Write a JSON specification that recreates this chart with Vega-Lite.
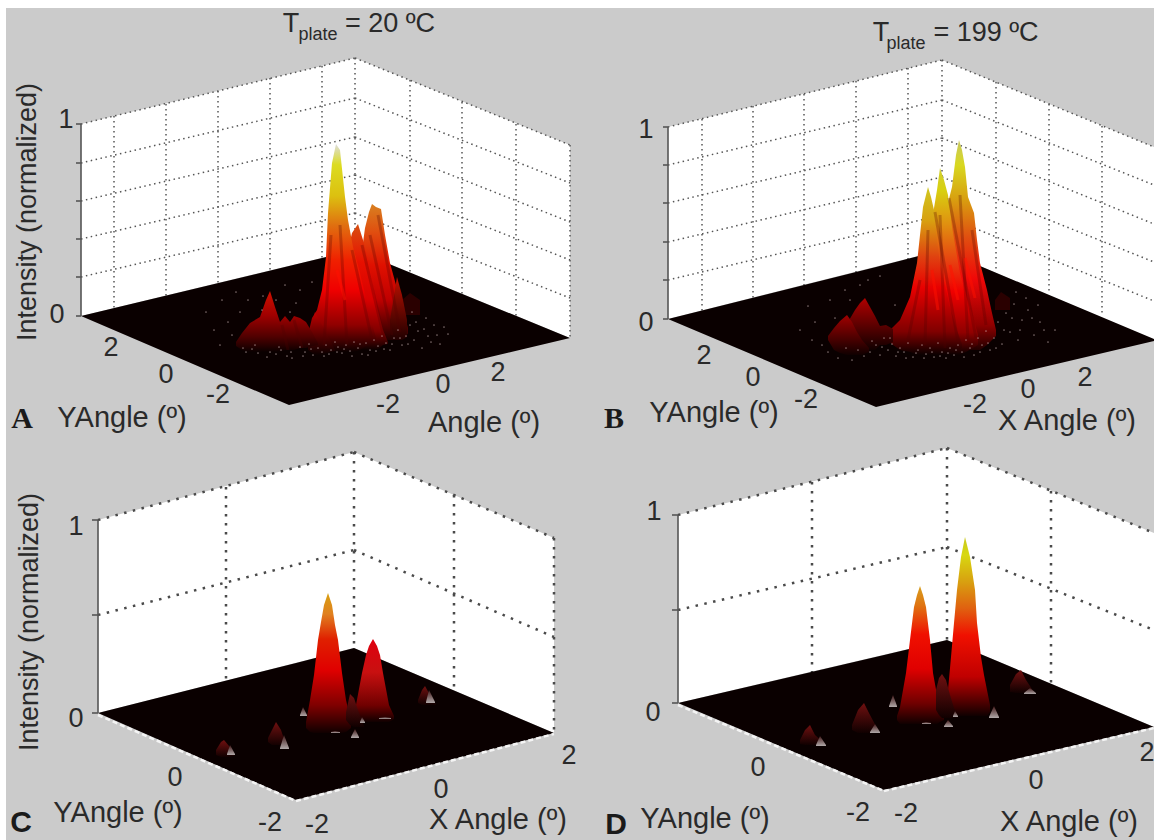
{"$schema":"https://vega.github.io/schema/vega-lite/v6.json","width":1154,"height":840,"padding":0,"autosize":{"type":"none"},"background":"#ffffff","config":{"view":{"stroke":null}},
"datasets":{
"bg":[{"x":6,"y":8,"y2":840},{"x":1154,"y":8,"y2":840}],
"walls":[{"p":"A","x":81,"y":124,"y2":316},{"p":"A","x":355,"y":58,"y2":250},{"p":"A","x":570,"y":145,"y2":338},{"p":"B","x":668,"y":127,"y2":319},{"p":"B","x":942,"y":60,"y2":250},{"p":"B","x":1154,"y":147,"y2":340},{"p":"C","x":98,"y":520,"y2":713},{"p":"C","x":354,"y":452,"y2":648},{"p":"C","x":554,"y":538,"y2":733},{"p":"D","x":678,"y":515,"y2":703},{"p":"D","x":947,"y":448,"y2":640},{"p":"D","x":1154,"y":533,"y2":727}],
"floors":[{"p":"A","x":81,"y":316,"y2":316},{"p":"A","x":289,"y":266,"y2":405},{"p":"A","x":355,"y":250,"y2":389},{"p":"A","x":570,"y":338,"y2":338},{"p":"B","x":668,"y":319,"y2":319},{"p":"B","x":876,"y":267,"y2":407},{"p":"B","x":942,"y":250,"y2":391},{"p":"B","x":1154,"y":339,"y2":341},{"p":"C","x":98,"y":713,"y2":713},{"p":"C","x":296,"y":663,"y2":800},{"p":"C","x":354,"y":648,"y2":785},{"p":"C","x":554,"y":733,"y2":733},{"p":"D","x":678,"y":703,"y2":703},{"p":"D","x":884,"y":655,"y2":790},{"p":"D","x":947,"y":640,"y2":775},{"p":"D","x":1154,"y":727,"y2":727}],
"segs":[
{"g":"fine","x":81,"y":124,"x2":355,"y2":58},{"g":"fine","x":81,"y":163,"x2":355,"y2":98},{"g":"fine","x":81,"y":201,"x2":355,"y2":137},{"g":"fine","x":81,"y":239,"x2":355,"y2":175},{"g":"fine","x":81,"y":277,"x2":355,"y2":213},
{"g":"fine","x":355,"y":58,"x2":570,"y2":145},{"g":"fine","x":355,"y":98,"x2":570,"y2":183},{"g":"fine","x":355,"y":137,"x2":570,"y2":222},{"g":"fine","x":355,"y":175,"x2":570,"y2":260},{"g":"fine","x":355,"y":213,"x2":570,"y2":298},
{"g":"fine","x":114,"y":116,"x2":114,"y2":308},{"g":"fine","x":166,"y":104,"x2":166,"y2":296},{"g":"fine","x":218,"y":91,"x2":218,"y2":283},{"g":"fine","x":270,"y":78,"x2":270,"y2":270},{"g":"fine","x":322,"y":66,"x2":322,"y2":258},{"g":"fine","x":355,"y":58,"x2":355,"y2":250},{"g":"fine","x":410,"y":80,"x2":410,"y2":272},{"g":"fine","x":462,"y":102,"x2":462,"y2":294},{"g":"fine","x":516,"y":124,"x2":516,"y2":316},{"g":"fine","x":570,"y":145,"x2":570,"y2":338},
{"g":"fine","x":668,"y":127,"x2":942,"y2":60},{"g":"fine","x":668,"y":165,"x2":942,"y2":100},{"g":"fine","x":668,"y":203,"x2":942,"y2":138},{"g":"fine","x":668,"y":242,"x2":942,"y2":177},{"g":"fine","x":668,"y":280,"x2":942,"y2":215},
{"g":"fine","x":942,"y":60,"x2":1154,"y2":147},{"g":"fine","x":942,"y":100,"x2":1154,"y2":185},{"g":"fine","x":942,"y":138,"x2":1154,"y2":224},{"g":"fine","x":942,"y":177,"x2":1154,"y2":262},{"g":"fine","x":942,"y":215,"x2":1154,"y2":301},
{"g":"fine","x":702,"y":119,"x2":702,"y2":311},{"g":"fine","x":753,"y":106,"x2":753,"y2":298},{"g":"fine","x":804,"y":94,"x2":804,"y2":286},{"g":"fine","x":856,"y":81,"x2":856,"y2":273},{"g":"fine","x":908,"y":68,"x2":908,"y2":260},{"g":"fine","x":942,"y":60,"x2":942,"y2":250},{"g":"fine","x":996,"y":82,"x2":996,"y2":272},{"g":"fine","x":1049,"y":104,"x2":1049,"y2":294},{"g":"fine","x":1102,"y":126,"x2":1102,"y2":316},
{"g":"coarse","x":98,"y":520,"x2":354,"y2":452},{"g":"coarse","x":354,"y":452,"x2":554,"y2":538},{"g":"coarse","x":98,"y":615,"x2":354,"y2":550},{"g":"coarse","x":354,"y":550,"x2":554,"y2":637},{"g":"coarse","x":226,"y":487,"x2":226,"y2":679},{"g":"coarse","x":354,"y":452,"x2":354,"y2":648},{"g":"coarse","x":454,"y":495,"x2":454,"y2":690},{"g":"coarse","x":554,"y":538,"x2":554,"y2":733},
{"g":"coarse","x":678,"y":515,"x2":947,"y2":448},{"g":"coarse","x":947,"y":448,"x2":1154,"y2":533},{"g":"coarse","x":678,"y":610,"x2":947,"y2":547},{"g":"coarse","x":947,"y":547,"x2":1154,"y2":630},{"g":"coarse","x":812,"y":482,"x2":812,"y2":672},{"g":"coarse","x":947,"y":448,"x2":947,"y2":640},{"g":"coarse","x":1051,"y":491,"x2":1051,"y2":684},
{"g":"axis","x":81,"y":124,"x2":81,"y2":316},{"g":"axis","x":668,"y":127,"x2":668,"y2":319},{"g":"axis","x":98,"y":520,"x2":98,"y2":713},{"g":"axis","x":678,"y":515,"x2":678,"y2":703},
{"g":"axis","x":76,"y":124,"x2":81,"y2":124},{"g":"axis","x":76,"y":163,"x2":81,"y2":163},{"g":"axis","x":76,"y":201,"x2":81,"y2":201},{"g":"axis","x":76,"y":239,"x2":81,"y2":239},{"g":"axis","x":76,"y":277,"x2":81,"y2":277},{"g":"axis","x":76,"y":316,"x2":81,"y2":316},
{"g":"axis","x":663,"y":127,"x2":668,"y2":127},{"g":"axis","x":663,"y":165,"x2":668,"y2":165},{"g":"axis","x":663,"y":203,"x2":668,"y2":203},{"g":"axis","x":663,"y":242,"x2":668,"y2":242},{"g":"axis","x":663,"y":280,"x2":668,"y2":280},{"g":"axis","x":663,"y":319,"x2":668,"y2":319},
{"g":"axis","x":92,"y":520,"x2":98,"y2":520},{"g":"axis","x":92,"y":615,"x2":98,"y2":615},{"g":"axis","x":92,"y":713,"x2":98,"y2":713},{"g":"axis","x":672,"y":515,"x2":678,"y2":515},{"g":"axis","x":672,"y":610,"x2":678,"y2":610},{"g":"axis","x":672,"y":703,"x2":678,"y2":703},
{"g":"edge","x":98,"y":715,"x2":296,"y2":801},{"g":"edge","x":296,"y":801,"x2":554,"y2":734},{"g":"edge","x":678,"y":705,"x2":884,"y2":791},{"g":"edge","x":884,"y":791,"x2":1154,"y2":728},
{"g":"fold","x":340,"y":225,"x2":347,"y2":345},{"g":"fold","x":331,"y":235,"x2":324,"y2":345},{"g":"fold","x":362,"y":245,"x2":384,"y2":338},{"g":"fold","x":352,"y":250,"x2":372,"y2":340},{"g":"fold","x":378,"y":215,"x2":400,"y2":332},{"g":"fold","x":370,"y":235,"x2":392,"y2":335},{"g":"fold","x":282,"y":325,"x2":288,"y2":350},{"g":"fold","x":294,"y":320,"x2":302,"y2":348},
{"g":"fold","x":935,"y":212,"x2":958,"y2":342},{"g":"fold","x":949,"y":198,"x2":976,"y2":338},{"g":"fold","x":920,"y":280,"x2":908,"y2":340},{"g":"fold","x":928,"y":230,"x2":925,"y2":345},{"g":"fold","x":940,"y":215,"x2":945,"y2":348},{"g":"fold","x":960,"y":195,"x2":968,"y2":340},{"g":"fold","x":972,"y":230,"x2":986,"y2":325},
{"g":"glint","x":932,"y":270,"x2":938,"y2":310},{"g":"glint","x":950,"y":265,"x2":958,"y2":300},{"g":"glint","x":965,"y":258,"x2":975,"y2":298},{"g":"glint","x":337,"y":270,"x2":345,"y2":300}
],
"peaks":[
{"p":"A3","x":362,"y":250,"y2":320},{"p":"A3","x":365,"y":228,"y2":330},{"p":"A3","x":369,"y":212,"y2":335},{"p":"A3","x":372,"y":204,"y2":340},{"p":"A3","x":376,"y":207,"y2":340},{"p":"A3","x":381,"y":209,"y2":340},{"p":"A3","x":385,"y":235,"y2":340},{"p":"A3","x":390,"y":263,"y2":340},{"p":"A3","x":396,"y":285,"y2":338},{"p":"A3","x":402,"y":305,"y2":336},{"p":"A3","x":408,"y":328,"y2":334},
{"p":"A3b","x":390,"y":320,"y2":340},{"p":"A3b","x":397,"y":277,"y2":340},{"p":"A3b","x":402,"y":295,"y2":340},{"p":"A3b","x":407,"y":320,"y2":337},
{"p":"A2","x":348,"y":250,"y2":345},{"p":"A2","x":352,"y":233,"y2":350},{"p":"A2","x":358,"y":224,"y2":350},{"p":"A2","x":363,"y":240,"y2":350},{"p":"A2","x":368,"y":260,"y2":350},{"p":"A2","x":372,"y":280,"y2":350},{"p":"A2","x":377,"y":307,"y2":350},{"p":"A2","x":383,"y":330,"y2":345},{"p":"A2","x":388,"y":342,"y2":344},
{"p":"A1","x":308,"y":335,"y2":345},{"p":"A1","x":312,"y":318,"y2":348},{"p":"A1","x":317,"y":310,"y2":350},{"p":"A1","x":322,"y":290,"y2":350},{"p":"A1","x":326,"y":257,"y2":352},{"p":"A1","x":328,"y":213,"y2":352},{"p":"A1","x":332,"y":163,"y2":352},{"p":"A1","x":336,"y":144,"y2":352},{"p":"A1","x":340,"y":150,"y2":352},{"p":"A1","x":345,"y":197,"y2":352},{"p":"A1","x":348,"y":220,"y2":352},{"p":"A1","x":353,"y":247,"y2":352},{"p":"A1","x":360,"y":273,"y2":350},{"p":"A1","x":367,"y":303,"y2":345},{"p":"A1","x":373,"y":327,"y2":340},{"p":"A1","x":376,"y":338,"y2":339},
{"p":"A4","x":308,"y":340,"y2":350},{"p":"A4","x":315,"y":312,"y2":355},{"p":"A4","x":322,"y":325,"y2":355},{"p":"A4","x":330,"y":340,"y2":352},{"p":"A4","x":335,"y":350,"y2":351},
{"p":"A5","x":236,"y":342,"y2":346},{"p":"A5","x":242,"y":333,"y2":350},{"p":"A5","x":250,"y":323,"y2":352},{"p":"A5","x":260,"y":317,"y2":352},{"p":"A5","x":266,"y":300,"y2":352},{"p":"A5","x":270,"y":291,"y2":352},{"p":"A5","x":275,"y":307,"y2":352},{"p":"A5","x":280,"y":322,"y2":352},{"p":"A5","x":285,"y":316,"y2":350},{"p":"A5","x":290,"y":322,"y2":350},{"p":"A5","x":294,"y":316,"y2":350},{"p":"A5","x":300,"y":318,"y2":348},{"p":"A5","x":306,"y":322,"y2":348},{"p":"A5","x":312,"y":332,"y2":346},{"p":"A5","x":318,"y":343,"y2":345},
{"p":"B3","x":945,"y":215,"y2":345},{"p":"B3","x":952,"y":187,"y2":348},{"p":"B3","x":956,"y":155,"y2":350},{"p":"B3","x":959,"y":140,"y2":350},{"p":"B3","x":962,"y":150,"y2":350},{"p":"B3","x":965,"y":167,"y2":350},{"p":"B3","x":968,"y":197,"y2":350},{"p":"B3","x":974,"y":213,"y2":350},{"p":"B3","x":977,"y":240,"y2":350},{"p":"B3","x":980,"y":263,"y2":350},{"p":"B3","x":987,"y":290,"y2":345},{"p":"B3","x":992,"y":313,"y2":340},{"p":"B3","x":996,"y":330,"y2":336},
{"p":"B2","x":930,"y":230,"y2":355},{"p":"B2","x":934,"y":208,"y2":355},{"p":"B2","x":937,"y":190,"y2":355},{"p":"B2","x":940,"y":168,"y2":355},{"p":"B2","x":944,"y":180,"y2":355},{"p":"B2","x":948,"y":195,"y2":355},{"p":"B2","x":952,"y":227,"y2":355},{"p":"B2","x":956,"y":250,"y2":355},{"p":"B2","x":960,"y":273,"y2":355},{"p":"B2","x":966,"y":295,"y2":352},{"p":"B2","x":973,"y":317,"y2":348},{"p":"B2","x":978,"y":335,"y2":345},
{"p":"B1","x":888,"y":332,"y2":340},{"p":"B1","x":893,"y":327,"y2":345},{"p":"B1","x":900,"y":320,"y2":350},{"p":"B1","x":910,"y":297,"y2":352},{"p":"B1","x":917,"y":263,"y2":355},{"p":"B1","x":920,"y":235,"y2":355},{"p":"B1","x":923,"y":207,"y2":355},{"p":"B1","x":928,"y":187,"y2":355},{"p":"B1","x":931,"y":197,"y2":355},{"p":"B1","x":934,"y":210,"y2":355},{"p":"B1","x":937,"y":240,"y2":355},{"p":"B1","x":940,"y":263,"y2":355},{"p":"B1","x":945,"y":285,"y2":355},{"p":"B1","x":950,"y":307,"y2":352},{"p":"B1","x":957,"y":330,"y2":350},{"p":"B1","x":962,"y":344,"y2":348},
{"p":"B5","x":848,"y":322,"y2":345},{"p":"B5","x":855,"y":310,"y2":350},{"p":"B5","x":860,"y":303,"y2":350},{"p":"B5","x":865,"y":298,"y2":350},{"p":"B5","x":870,"y":307,"y2":350},{"p":"B5","x":875,"y":316,"y2":350},{"p":"B5","x":880,"y":326,"y2":345},{"p":"B5","x":886,"y":325,"y2":345},{"p":"B5","x":893,"y":329,"y2":342},
{"p":"B4","x":828,"y":336,"y2":340},{"p":"B4","x":834,"y":328,"y2":350},{"p":"B4","x":840,"y":321,"y2":353},{"p":"B4","x":847,"y":315,"y2":355},{"p":"B4","x":852,"y":322,"y2":355},{"p":"B4","x":857,"y":332,"y2":355},{"p":"B4","x":862,"y":340,"y2":355},{"p":"B4","x":869,"y":348,"y2":352},
{"p":"C2","x":352,"y":715,"y2":718},{"p":"C2","x":356,"y":705,"y2":722},{"p":"C2","x":362,"y":673,"y2":722},{"p":"C2","x":366,"y":655,"y2":722},{"p":"C2","x":369,"y":646,"y2":722},{"p":"C2","x":373,"y":639,"y2":722},{"p":"C2","x":377,"y":646,"y2":722},{"p":"C2","x":380,"y":655,"y2":722},{"p":"C2","x":383,"y":673,"y2":722},{"p":"C2","x":389,"y":705,"y2":722},{"p":"C2","x":394,"y":716,"y2":719},
{"p":"C1","x":306,"y":722,"y2":728},{"p":"C1","x":310,"y":700,"y2":732},{"p":"C1","x":314,"y":675,"y2":733},{"p":"C1","x":318,"y":640,"y2":733},{"p":"C1","x":321,"y":622,"y2":733},{"p":"C1","x":324,"y":605,"y2":733},{"p":"C1","x":328,"y":593,"y2":733},{"p":"C1","x":332,"y":605,"y2":733},{"p":"C1","x":335,"y":625,"y2":733},{"p":"C1","x":338,"y":640,"y2":733},{"p":"C1","x":342,"y":673,"y2":733},{"p":"C1","x":346,"y":700,"y2":732},{"p":"C1","x":351,"y":722,"y2":728},
{"p":"D2","x":946,"y":700,"y2":712},{"p":"D2","x":948,"y":690,"y2":715},{"p":"D2","x":951,"y":657,"y2":716},{"p":"D2","x":954,"y":623,"y2":716},{"p":"D2","x":957,"y":590,"y2":716},{"p":"D2","x":961,"y":557,"y2":716},{"p":"D2","x":965,"y":537,"y2":716},{"p":"D2","x":970,"y":557,"y2":716},{"p":"D2","x":975,"y":590,"y2":716},{"p":"D2","x":977,"y":623,"y2":716},{"p":"D2","x":981,"y":657,"y2":716},{"p":"D2","x":984,"y":675,"y2":716},{"p":"D2","x":987,"y":690,"y2":716},{"p":"D2","x":990,"y":705,"y2":712},
{"p":"D1","x":897,"y":716,"y2":720},{"p":"D1","x":900,"y":707,"y2":724},{"p":"D1","x":906,"y":673,"y2":724},{"p":"D1","x":910,"y":640,"y2":724},{"p":"D1","x":914,"y":607,"y2":724},{"p":"D1","x":917,"y":595,"y2":724},{"p":"D1","x":920,"y":586,"y2":724},{"p":"D1","x":923,"y":595,"y2":724},{"p":"D1","x":926,"y":607,"y2":724},{"p":"D1","x":930,"y":640,"y2":724},{"p":"D1","x":933,"y":673,"y2":724},{"p":"D1","x":937,"y":695,"y2":724},{"p":"D1","x":940,"y":707,"y2":722},{"p":"D1","x":944,"y":718,"y2":720}
],
"bumps":[
{"p":"a1","x":402,"y":300,"y2":315},{"p":"a1","x":410,"y":293,"y2":315},{"p":"a1","x":420,"y":300,"y2":315},
{"p":"b1","x":995,"y":300,"y2":310},{"p":"b1","x":1001,"y":292,"y2":310},{"p":"b1","x":1010,"y":298,"y2":310},
{"p":"c1","x":268,"y":738,"y2":742},{"p":"c1","x":272,"y":730,"y2":745},{"p":"c1","x":276,"y":722,"y2":745},{"p":"c1","x":281,"y":730,"y2":745},{"p":"c1","x":286,"y":745,"y2":746},
{"p":"c2","x":216,"y":750,"y2":755},{"p":"c2","x":221,"y":742,"y2":757},{"p":"c2","x":224,"y":740,"y2":757},{"p":"c2","x":229,"y":746,"y2":757},{"p":"c2","x":234,"y":755,"y2":756},
{"p":"c3","x":418,"y":700,"y2":703},{"p":"c3","x":422,"y":690,"y2":705},{"p":"c3","x":425,"y":686,"y2":705},{"p":"c3","x":430,"y":695,"y2":705},{"p":"c3","x":436,"y":704,"y2":705},
{"p":"c4","x":346,"y":712,"y2":720},{"p":"c4","x":350,"y":694,"y2":725},{"p":"c4","x":354,"y":698,"y2":727},{"p":"c4","x":358,"y":710,"y2":727},{"p":"c4","x":364,"y":726,"y2":727},
{"p":"d1","x":852,"y":725,"y2":730},{"p":"d1","x":858,"y":710,"y2":733},{"p":"d1","x":864,"y":703,"y2":733},{"p":"d1","x":870,"y":715,"y2":733},{"p":"d1","x":878,"y":730,"y2":733},
{"p":"d2","x":800,"y":740,"y2":744},{"p":"d2","x":805,"y":730,"y2":745},{"p":"d2","x":810,"y":725,"y2":745},{"p":"d2","x":815,"y":735,"y2":745},{"p":"d2","x":825,"y":744,"y2":745},
{"p":"d3","x":1010,"y":685,"y2":692},{"p":"d3","x":1016,"y":674,"y2":693},{"p":"d3","x":1021,"y":670,"y2":693},{"p":"d3","x":1026,"y":680,"y2":693},{"p":"d3","x":1034,"y":692,"y2":693},
{"p":"d4","x":936,"y":690,"y2":710},{"p":"d4","x":939,"y":678,"y2":715},{"p":"d4","x":942,"y":674,"y2":718},{"p":"d4","x":946,"y":680,"y2":718},{"p":"d4","x":950,"y":695,"y2":718},{"p":"d4","x":954,"y":708,"y2":718},{"p":"d4","x":958,"y":716,"y2":718}
],
"tips":[
{"p":"c1","x":280,"y":748,"y2":749},{"p":"c1","x":284,"y":735,"y2":749},{"p":"c1","x":289,"y":748,"y2":749},
{"p":"c2","x":227,"y":754,"y2":755},{"p":"c2","x":230,"y":745,"y2":755},{"p":"c2","x":235,"y":754,"y2":755},
{"p":"c3","x":426,"y":702,"y2":703},{"p":"c3","x":429,"y":690,"y2":703},{"p":"c3","x":435,"y":702,"y2":703},
{"p":"c4","x":300,"y":715,"y2":716},{"p":"c4","x":303,"y":707,"y2":716},{"p":"c4","x":307,"y":715,"y2":716},
{"p":"c5","x":351,"y":737,"y2":738},{"p":"c5","x":355,"y":729,"y2":738},{"p":"c5","x":359,"y":737,"y2":738},
{"p":"c6","x":331,"y":732,"y2":733},{"p":"c6","x":335,"y":731,"y2":733},{"p":"c6","x":340,"y":732,"y2":733},
{"p":"c7","x":379,"y":718,"y2":719},{"p":"c7","x":385,"y":717,"y2":719},{"p":"c7","x":391,"y":718,"y2":719},
{"p":"c8","x":360,"y":722,"y2":723},{"p":"c8","x":362,"y":717,"y2":723},{"p":"c8","x":365,"y":722,"y2":723},
{"p":"d1","x":870,"y":732,"y2":733},{"p":"d1","x":875,"y":724,"y2":733},{"p":"d1","x":880,"y":732,"y2":733},
{"p":"d2","x":816,"y":745,"y2":746},{"p":"d2","x":820,"y":736,"y2":746},{"p":"d2","x":826,"y":745,"y2":746},
{"p":"d3","x":1024,"y":693,"y2":694},{"p":"d3","x":1030,"y":688,"y2":694},{"p":"d3","x":1036,"y":693,"y2":694},
{"p":"d4","x":889,"y":706,"y2":707},{"p":"d4","x":893,"y":695,"y2":707},{"p":"d4","x":897,"y":706,"y2":707},
{"p":"d5","x":944,"y":726,"y2":727},{"p":"d5","x":948,"y":720,"y2":727},{"p":"d5","x":953,"y":726,"y2":727},
{"p":"d6","x":989,"y":717,"y2":718},{"p":"d6","x":994,"y":706,"y2":718},{"p":"d6","x":999,"y":717,"y2":718},
{"p":"d7","x":953,"y":716,"y2":717},{"p":"d7","x":955,"y":711,"y2":717},{"p":"d7","x":958,"y":716,"y2":717},
{"p":"d8","x":922,"y":723,"y2":724},{"p":"d8","x":926,"y":722,"y2":724},{"p":"d8","x":931,"y":723,"y2":724}
],
"dots":[
{"x":206,"y":312},{"x":214,"y":330},{"x":222,"y":300},{"x":228,"y":322},{"x":236,"y":292},{"x":240,"y":312},{"x":246,"y":352},{"x":252,"y":349},{"x":258,"y":353},{"x":263,"y":296},{"x":270,"y":352},{"x":276,"y":354},{"x":281,"y":350},{"x":287,"y":356},{"x":292,"y":358},{"x":296,"y":303},{"x":300,"y":347},{"x":305,"y":352},{"x":309,"y":344},{"x":313,"y":355},{"x":318,"y":348},{"x":322,"y":352},{"x":326,"y":345},{"x":331,"y":350},{"x":335,"y":342},{"x":338,"y":347},{"x":342,"y":353},{"x":346,"y":345},{"x":350,"y":351},{"x":354,"y":342},{"x":358,"y":348},{"x":362,"y":354},{"x":366,"y":343},{"x":370,"y":350},{"x":374,"y":340},{"x":378,"y":346},{"x":382,"y":336},{"x":386,"y":343},{"x":390,"y":350},{"x":394,"y":338},{"x":398,"y":330},{"x":402,"y":345},{"x":406,"y":336},{"x":410,"y":325},{"x":414,"y":340},{"x":418,"y":331},{"x":422,"y":348},{"x":428,"y":336},{"x":434,"y":325},{"x":440,"y":344},{"x":448,"y":334},{"x":285,"y":285},{"x":262,"y":310},{"x":248,"y":300},{"x":300,"y":290},{"x":312,"y":282},
{"x":243,"y":348},{"x":255,"y":345},{"x":267,"y":357},{"x":279,"y":347},{"x":291,"y":352},{"x":303,"y":356},{"x":311,"y":349},{"x":324,"y":356},{"x":329,"y":354},{"x":337,"y":352},{"x":344,"y":349},{"x":352,"y":356},{"x":360,"y":344},{"x":368,"y":355},{"x":376,"y":351},{"x":384,"y":349},{"x":392,"y":344},{"x":400,"y":338},{"x":408,"y":344},{"x":416,"y":322},{"x":424,"y":329},{"x":431,"y":342},{"x":437,"y":335},{"x":444,"y":327},{"x":412,"y":312},{"x":426,"y":318},{"x":232,"y":335},{"x":220,"y":345},{"x":276,"y":300},{"x":290,"y":312},
{"x":800,"y":330},{"x":808,"y":306},{"x":815,"y":322},{"x":822,"y":345},{"x":830,"y":300},{"x":838,"y":358},{"x":845,"y":290},{"x":852,"y":360},{"x":858,"y":350},{"x":864,"y":356},{"x":870,"y":352},{"x":876,"y":345},{"x":880,"y":355},{"x":884,"y":338},{"x":888,"y":350},{"x":892,"y":344},{"x":896,"y":356},{"x":900,"y":348},{"x":904,"y":352},{"x":908,"y":343},{"x":913,"y":357},{"x":918,"y":350},{"x":922,"y":345},{"x":926,"y":354},{"x":930,"y":348},{"x":934,"y":357},{"x":938,"y":343},{"x":942,"y":352},{"x":946,"y":358},{"x":950,"y":348},{"x":954,"y":355},{"x":958,"y":345},{"x":962,"y":352},{"x":966,"y":340},{"x":970,"y":348},{"x":974,"y":355},{"x":978,"y":338},{"x":982,"y":345},{"x":986,"y":331},{"x":990,"y":350},{"x":994,"y":338},{"x":998,"y":322},{"x":1002,"y":344},{"x":1006,"y":313},{"x":1010,"y":332},{"x":1014,"y":304},{"x":1018,"y":340},{"x":1022,"y":320},{"x":1028,"y":310},{"x":1034,"y":335},{"x":1040,"y":322},{"x":1048,"y":342},{"x":1055,"y":330},{"x":860,"y":285},{"x":835,"y":318},{"x":880,"y":276},
{"x":872,"y":341},{"x":882,"y":347},{"x":890,"y":338},{"x":898,"y":352},{"x":906,"y":358},{"x":916,"y":353},{"x":924,"y":358},{"x":932,"y":352},{"x":940,"y":356},{"x":948,"y":353},{"x":956,"y":350},{"x":964,"y":357},{"x":972,"y":344},{"x":980,"y":352},{"x":988,"y":343},{"x":996,"y":348},{"x":1004,"y":330},{"x":1012,"y":318},{"x":1020,"y":330},{"x":1026,"y":298},{"x":1032,"y":318},{"x":1038,"y":305},{"x":1044,"y":330},{"x":1016,"y":292},{"x":868,"y":280},{"x":846,"y":348},{"x":828,"y":352},{"x":812,"y":340},{"x":850,"y":300},{"x":895,"y":305}
],
"labels":[
{"k":"tick","x":66,"y":120,"t":"1"},{"k":"tick","x":57,"y":315,"t":"0"},{"k":"tick","x":111,"y":348,"t":"2"},{"k":"tick","x":166,"y":375,"t":"0"},{"k":"tick","x":218,"y":395,"t":"-2"},{"k":"tick","x":388,"y":405,"t":"-2"},{"k":"tick","x":443,"y":385,"t":"0"},{"k":"tick","x":498,"y":373,"t":"2"},
{"k":"tick","x":646,"y":130,"t":"1"},{"k":"tick","x":646,"y":323,"t":"0"},{"k":"tick","x":704,"y":356,"t":"2"},{"k":"tick","x":753,"y":378,"t":"0"},{"k":"tick","x":806,"y":400,"t":"-2"},{"k":"tick","x":975,"y":405,"t":"-2"},{"k":"tick","x":1028,"y":390,"t":"0"},{"k":"tick","x":1085,"y":378,"t":"2"},
{"k":"tick","x":76,"y":527,"t":"1"},{"k":"tick","x":76,"y":719,"t":"0"},{"k":"tick","x":175,"y":778,"t":"0"},{"k":"tick","x":270,"y":823,"t":"-2"},{"k":"tick","x":317,"y":825,"t":"-2"},{"k":"tick","x":441,"y":790,"t":"0"},{"k":"tick","x":569,"y":756,"t":"2"},
{"k":"tick","x":654,"y":512,"t":"1"},{"k":"tick","x":653,"y":713,"t":"0"},{"k":"tick","x":758,"y":768,"t":"0"},{"k":"tick","x":858,"y":813,"t":"-2"},{"k":"tick","x":906,"y":814,"t":"-2"},{"k":"tick","x":1036,"y":781,"t":"0"},{"k":"tick","x":1147,"y":753,"t":"2"},
{"k":"title","x":122,"y":418,"t":"YAngle (º)"},{"k":"title","x":484,"y":423,"t":"Angle (º)"},{"k":"title","x":714,"y":413,"t":"YAngle (º)"},{"k":"title","x":1067,"y":421,"t":"X Angle (º)"},{"k":"title","x":118,"y":813,"t":"YAngle (º)"},{"k":"title","x":498,"y":820,"t":"X Angle (º)"},{"k":"title","x":705,"y":819,"t":"YAngle (º)"},{"k":"title","x":1069,"y":822,"t":"X Angle (º)"},
{"k":"tick","x":291,"y":24,"t":"T"},{"k":"tick","x":390,"y":24,"t":"= 20 ºC"},{"k":"tick","x":881,"y":33,"t":"T"},{"k":"tick","x":986,"y":33,"t":"= 199 ºC"},
{"k":"sub","x":318,"y":35,"t":"plate"},{"k":"sub","x":906,"y":44,"t":"plate"},
{"k":"rot","x":28,"y":212,"t":"Intensity (normalized)"},{"k":"rot","x":30,"y":622,"t":"Intensity (normalized)"},
{"k":"serif","x":22,"y":419,"t":"A"},{"k":"serif","x":614,"y":419,"t":"B"},
{"k":"sans","x":21,"y":823,"t":"C"},{"k":"sans","x":616,"y":825,"t":"D"}
]},
"encoding":{"x":{"field":"x","type":"quantitative","scale":{"domain":[0,1154],"nice":false,"zero":false},"axis":null},"y":{"field":"y","type":"quantitative","scale":{"domain":[840,0],"nice":false,"zero":false},"axis":null}},
"layer":[
{"data":{"name":"bg"},"mark":{"type":"area","orient":"vertical","fill":"#cbcbcb"},"encoding":{"y2":{"field":"y2"}}},
{"data":{"name":"walls"},"mark":{"type":"area","orient":"vertical","fill":"#ffffff"},"encoding":{"y2":{"field":"y2"},"detail":{"field":"p"}}},
{"data":{"name":"segs"},"transform":[{"filter":"datum.g=='fine'"}],"mark":{"type":"rule","stroke":"#555555","strokeWidth":1.5,"strokeDash":[1.5,3.5]},"encoding":{"x2":{"field":"x2"},"y2":{"field":"y2"}}},
{"data":{"name":"segs"},"transform":[{"filter":"datum.g=='coarse'"}],"mark":{"type":"rule","stroke":"#4a4a4a","strokeWidth":2.5,"strokeDash":[2.5,6.5]},"encoding":{"x2":{"field":"x2"},"y2":{"field":"y2"}}},
{"data":{"name":"segs"},"transform":[{"filter":"datum.g=='axis'"}],"mark":{"type":"rule","stroke":"#555555","strokeWidth":1.6},"encoding":{"x2":{"field":"x2"},"y2":{"field":"y2"}}},
{"data":{"name":"floors"},"mark":{"type":"area","orient":"vertical","fill":"#0a0000"},"encoding":{"y2":{"field":"y2"},"detail":{"field":"p"}}},
{"data":{"name":"segs"},"transform":[{"filter":"datum.g=='edge'"}],"mark":{"type":"rule","stroke":"#f4f4f4","strokeWidth":2.5,"strokeDash":[5,3]},"encoding":{"x2":{"field":"x2"},"y2":{"field":"y2"}}},
{"data":{"name":"bumps"},"transform":[{"filter":"datum.p[0]=='a'||datum.p[0]=='b'"}],"mark":{"type":"area","orient":"vertical","fill":"#2a0000"},"encoding":{"y2":{"field":"y2"},"detail":{"field":"p"}}},
{"data":{"name":"peaks"},"transform":[{"filter":"datum.p=='A3'"}],"mark":{"type":"area","orient":"vertical","fill":{"gradient":"linear","x1":0,"y1":0,"x2":0,"y2":1,"stops":[{"offset":0,"color":"#d88020"},{"offset":0.2,"color":"#e05010"},{"offset":0.45,"color":"#e01000"},{"offset":0.7,"color":"#c00000"},{"offset":1,"color":"#200000"}]}},"encoding":{"y2":{"field":"y2"}}},
{"data":{"name":"peaks"},"transform":[{"filter":"datum.p=='A3b'"}],"mark":{"type":"area","orient":"vertical","fill":{"gradient":"linear","x1":0,"y1":0,"x2":0,"y2":1,"stops":[{"offset":0,"color":"#c01000"},{"offset":1,"color":"#200000"}]}},"encoding":{"y2":{"field":"y2"}}},
{"data":{"name":"peaks"},"transform":[{"filter":"datum.p=='A2'"}],"mark":{"type":"area","orient":"vertical","fill":{"gradient":"linear","x1":0,"y1":0,"x2":0,"y2":1,"stops":[{"offset":0,"color":"#d85010"},{"offset":0.3,"color":"#e81000"},{"offset":0.6,"color":"#d80000"},{"offset":0.85,"color":"#800000"},{"offset":1,"color":"#0a0000"}]}},"encoding":{"y2":{"field":"y2"}}},
{"data":{"name":"peaks"},"transform":[{"filter":"datum.p=='A1'"}],"mark":{"type":"area","orient":"vertical","fill":{"gradient":"linear","x1":0,"y1":0,"x2":0,"y2":1,"stops":[{"offset":0,"color":"#dddddd"},{"offset":0.1,"color":"#dcdc20"},{"offset":0.25,"color":"#dcc010"},{"offset":0.39,"color":"#e07010"},{"offset":0.56,"color":"#f02000"},{"offset":0.7,"color":"#f00000"},{"offset":0.87,"color":"#900000"},{"offset":1,"color":"#0a0000"}]}},"encoding":{"y2":{"field":"y2"}}},
{"data":{"name":"peaks"},"transform":[{"filter":"datum.p=='A4'"}],"mark":{"type":"area","orient":"vertical","fill":{"gradient":"linear","x1":0,"y1":0,"x2":0,"y2":1,"stops":[{"offset":0,"color":"#c00000"},{"offset":1,"color":"#0a0000"}]}},"encoding":{"y2":{"field":"y2"}}},
{"data":{"name":"peaks"},"transform":[{"filter":"datum.p=='A5'"}],"mark":{"type":"area","orient":"vertical","fill":{"gradient":"linear","x1":0,"y1":0,"x2":0,"y2":1,"stops":[{"offset":0,"color":"#d01000"},{"offset":0.4,"color":"#a00000"},{"offset":0.75,"color":"#500000"},{"offset":1,"color":"#0a0000"}]}},"encoding":{"y2":{"field":"y2"}}},
{"data":{"name":"peaks"},"transform":[{"filter":"datum.p=='B3'"}],"mark":{"type":"area","orient":"vertical","fill":{"gradient":"linear","x1":0,"y1":0,"x2":0,"y2":1,"stops":[{"offset":0,"color":"#c8c860"},{"offset":0.12,"color":"#d8d820"},{"offset":0.28,"color":"#d8a010"},{"offset":0.46,"color":"#e05010"},{"offset":0.66,"color":"#f00808"},{"offset":0.88,"color":"#900000"},{"offset":1,"color":"#200000"}]}},"encoding":{"y2":{"field":"y2"}}},
{"data":{"name":"peaks"},"transform":[{"filter":"datum.p=='B2'"}],"mark":{"type":"area","orient":"vertical","fill":{"gradient":"linear","x1":0,"y1":0,"x2":0,"y2":1,"stops":[{"offset":0,"color":"#d0d030"},{"offset":0.12,"color":"#d8d010"},{"offset":0.3,"color":"#e09010"},{"offset":0.5,"color":"#e84010"},{"offset":0.66,"color":"#f00000"},{"offset":0.88,"color":"#900000"},{"offset":1,"color":"#0a0000"}]}},"encoding":{"y2":{"field":"y2"}}},
{"data":{"name":"peaks"},"transform":[{"filter":"datum.p=='B1'"}],"mark":{"type":"area","orient":"vertical","fill":{"gradient":"linear","x1":0,"y1":0,"x2":0,"y2":1,"stops":[{"offset":0,"color":"#d0c820"},{"offset":0.2,"color":"#d8a010"},{"offset":0.42,"color":"#e04010"},{"offset":0.6,"color":"#e80000"},{"offset":0.86,"color":"#800000"},{"offset":1,"color":"#0a0000"}]}},"encoding":{"y2":{"field":"y2"}}},
{"data":{"name":"peaks"},"transform":[{"filter":"datum.p=='B5'"}],"mark":{"type":"area","orient":"vertical","fill":{"gradient":"linear","x1":0,"y1":0,"x2":0,"y2":1,"stops":[{"offset":0,"color":"#b00000"},{"offset":1,"color":"#100000"}]}},"encoding":{"y2":{"field":"y2"}}},
{"data":{"name":"peaks"},"transform":[{"filter":"datum.p=='B4'"}],"mark":{"type":"area","orient":"vertical","fill":{"gradient":"linear","x1":0,"y1":0,"x2":0,"y2":1,"stops":[{"offset":0,"color":"#a00000"},{"offset":1,"color":"#100000"}]}},"encoding":{"y2":{"field":"y2"}}},
{"data":{"name":"segs"},"transform":[{"filter":"datum.g=='fold'"}],"mark":{"type":"rule","stroke":"#500000","strokeWidth":3,"opacity":0.28},"encoding":{"x2":{"field":"x2"},"y2":{"field":"y2"}}},
{"data":{"name":"segs"},"transform":[{"filter":"datum.g=='glint'"}],"mark":{"type":"rule","stroke":"#ff1000","strokeWidth":3,"opacity":0.5},"encoding":{"x2":{"field":"x2"},"y2":{"field":"y2"}}},
{"data":{"name":"peaks"},"transform":[{"filter":"datum.p=='C2'"}],"mark":{"type":"area","orient":"vertical","fill":{"gradient":"linear","x1":0,"y1":0,"x2":0,"y2":1,"stops":[{"offset":0,"color":"#e00010"},{"offset":0.4,"color":"#c81010"},{"offset":0.8,"color":"#700000"},{"offset":1,"color":"#100000"}]}},"encoding":{"y2":{"field":"y2"}}},
{"data":{"name":"peaks"},"transform":[{"filter":"datum.p=='C1'"}],"mark":{"type":"area","orient":"vertical","fill":{"gradient":"linear","x1":0,"y1":0,"x2":0,"y2":1,"stops":[{"offset":0,"color":"#d8a010"},{"offset":0.15,"color":"#e08020"},{"offset":0.33,"color":"#e02000"},{"offset":0.55,"color":"#e00000"},{"offset":0.8,"color":"#800000"},{"offset":1,"color":"#100000"}]}},"encoding":{"y2":{"field":"y2"}}},
{"data":{"name":"peaks"},"transform":[{"filter":"datum.p=='D2'"}],"mark":{"type":"area","orient":"vertical","fill":{"gradient":"linear","x1":0,"y1":0,"x2":0,"y2":1,"stops":[{"offset":0,"color":"#c8c820"},{"offset":0.1,"color":"#d8d810"},{"offset":0.25,"color":"#d8a010"},{"offset":0.4,"color":"#e06010"},{"offset":0.55,"color":"#f01000"},{"offset":0.78,"color":"#c00000"},{"offset":1,"color":"#100000"}]}},"encoding":{"y2":{"field":"y2"}}},
{"data":{"name":"peaks"},"transform":[{"filter":"datum.p=='D1'"}],"mark":{"type":"area","orient":"vertical","fill":{"gradient":"linear","x1":0,"y1":0,"x2":0,"y2":1,"stops":[{"offset":0,"color":"#d8a020"},{"offset":0.15,"color":"#e07010"},{"offset":0.35,"color":"#f01000"},{"offset":0.6,"color":"#e00000"},{"offset":0.85,"color":"#700000"},{"offset":1,"color":"#100000"}]}},"encoding":{"y2":{"field":"y2"}}},
{"data":{"name":"bumps"},"transform":[{"filter":"datum.p[0]=='c'||datum.p[0]=='d'"}],"mark":{"type":"area","orient":"vertical","fill":{"gradient":"linear","x1":0,"y1":0,"x2":0,"y2":1,"stops":[{"offset":0,"color":"#701010"},{"offset":1,"color":"#100000"}]}},"encoding":{"y2":{"field":"y2"},"detail":{"field":"p"}}},
{"data":{"name":"tips"},"mark":{"type":"area","orient":"vertical","fill":{"gradient":"linear","x1":0,"y1":0,"x2":0,"y2":1,"stops":[{"offset":0,"color":"#401818"},{"offset":1,"color":"#b0a8a8"}]}},"encoding":{"y2":{"field":"y2"},"detail":{"field":"p"}}},
{"data":{"name":"dots"},"mark":{"type":"point","shape":"circle","filled":true,"size":3,"color":"#d8c0c0","opacity":0.55}},
{"data":{"name":"labels"},"transform":[{"filter":"datum.k=='tick'"}],"mark":{"type":"text","font":"Liberation Sans","fontSize":27,"fill":"#2a2a2a","align":"center","baseline":"middle"},"encoding":{"text":{"field":"t"}}},
{"data":{"name":"labels"},"transform":[{"filter":"datum.k=='title'"}],"mark":{"type":"text","font":"Liberation Sans","fontSize":29,"fill":"#2a2a2a","align":"center","baseline":"middle"},"encoding":{"text":{"field":"t"}}},
{"data":{"name":"labels"},"transform":[{"filter":"datum.k=='sub'"}],"mark":{"type":"text","font":"Liberation Sans","fontSize":18,"fill":"#2a2a2a","align":"center","baseline":"middle"},"encoding":{"text":{"field":"t"}}},
{"data":{"name":"labels"},"transform":[{"filter":"datum.k=='rot'"}],"mark":{"type":"text","font":"Liberation Sans","fontSize":27,"fill":"#2a2a2a","align":"center","baseline":"middle","angle":270},"encoding":{"text":{"field":"t"}}},
{"data":{"name":"labels"},"transform":[{"filter":"datum.k=='serif'"}],"mark":{"type":"text","font":"Liberation Serif","fontWeight":"bold","fontSize":30,"fill":"#1a1a1a","align":"center","baseline":"middle"},"encoding":{"text":{"field":"t"}}},
{"data":{"name":"labels"},"transform":[{"filter":"datum.k=='sans'"}],"mark":{"type":"text","font":"Liberation Sans","fontWeight":"bold","fontSize":30,"fill":"#1a1a1a","align":"center","baseline":"middle"},"encoding":{"text":{"field":"t"}}}
]}
